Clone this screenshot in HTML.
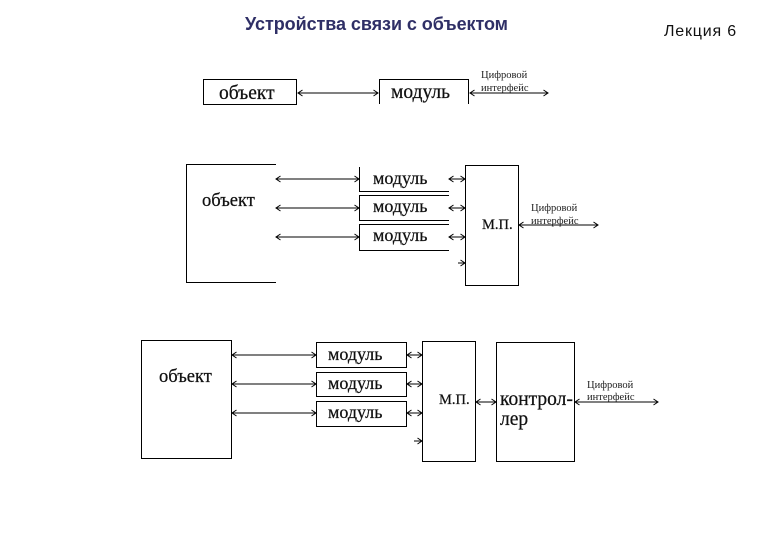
<!DOCTYPE html>
<html><head><meta charset="utf-8"><style>
html,body{margin:0;padding:0;background:#fff}
svg{display:block}
.s{font-family:"Liberation Serif",serif;fill:#111;stroke:#111;stroke-width:.25}
.t{font-family:"Liberation Serif",serif;fill:#222}
.l{stroke:#000;stroke-width:1;fill:none;shape-rendering:crispEdges}
.a{stroke:#000;stroke-width:1;fill:none}
</style></head><body>
<svg width="780" height="540" viewBox="0 0 780 540" xmlns="http://www.w3.org/2000/svg">
<defs>
<marker id="h" markerWidth="7" markerHeight="7" refX="5.5" refY="3.5" orient="auto-start-reverse" markerUnits="userSpaceOnUse"><path d="M1 .5L5.500 3.5L1 6.500" fill="none" stroke="#000" stroke-width="1"/></marker>
</defs>
<rect width="780" height="540" fill="#fff"/>
<text x="245" y="30" font-family="Liberation Sans,sans-serif" font-weight="700" font-size="18" fill="#2f2f66" textLength="263">Устройства связи с объектом</text>
<text x="664" y="36" font-family="Liberation Sans,sans-serif" font-size="16" letter-spacing=".8" fill="#111">Лекция 6</text>

<!-- diagram 1 -->
<rect class="l" x="203.500" y="79.500" width="93" height="25"/>
<path class="l" d="M379.500 104V79.500H468.500V104"/>
<text class="s" x="219" y="99" font-size="19.500">объект</text>
<text class="s" x="391" y="98" font-size="19.500">модуль</text>
<text class="t" x="481" y="78" font-size="10.500">Цифровой</text>
<text class="t" x="481" y="91" font-size="10.500">интерфейс</text>
<g class="a" marker-start="url(#h)" marker-end="url(#h)">
<path class="a" marker-start="url(#h)" marker-end="url(#h)" d="M298 93H378"/>
<path class="a" marker-start="url(#h)" marker-end="url(#h)" d="M470 93H548"/>
</g>

<!-- diagram 2 -->
<path class="l" d="M276 164.500H186.500V282.500H276"/>
<text class="s" x="202" y="206" font-size="18.500">объект</text>
<path class="l" d="M359.500 167V191.500H449M449 195.500H359.500V220.500H449M449 224.500H359.500V250.500H449"/>
<text class="s" x="373" y="184" font-size="18">модуль</text>
<text class="s" x="373" y="212" font-size="18">модуль</text>
<text class="s" x="373" y="241" font-size="18">модуль</text>
<rect class="l" x="465.500" y="165.500" width="53" height="120"/>
<text class="s" x="482" y="229" font-size="14.500">М.П.</text>
<text class="t" x="531" y="211" font-size="10.500">Цифровой</text>
<text class="t" x="531" y="224" font-size="10.500">интерфейс</text>
<path class="a" marker-start="url(#h)" marker-end="url(#h)" d="M276 179H359"/>
<path class="a" marker-start="url(#h)" marker-end="url(#h)" d="M276 208H359"/>
<path class="a" marker-start="url(#h)" marker-end="url(#h)" d="M276 237H359"/>
<path class="a" marker-start="url(#h)" marker-end="url(#h)" d="M449 179H465"/>
<path class="a" marker-start="url(#h)" marker-end="url(#h)" d="M449 208H465"/>
<path class="a" marker-start="url(#h)" marker-end="url(#h)" d="M449 237H465"/>
<path class="a" marker-start="url(#h)" marker-end="url(#h)" d="M519 225H598"/>
<path class="a" marker-end="url(#h)" d="M458 263H465"/>

<!-- diagram 3 -->
<rect class="l" x="141.500" y="340.500" width="90" height="118"/>
<text class="s" x="159" y="382" font-size="18.500">объект</text>
<rect class="l" x="316.500" y="342.500" width="90" height="25"/>
<rect class="l" x="316.500" y="372.500" width="90" height="24"/>
<rect class="l" x="316.500" y="401.500" width="90" height="25"/>
<text class="s" x="328" y="360" font-size="18">модуль</text>
<text class="s" x="328" y="389" font-size="18">модуль</text>
<text class="s" x="328" y="418" font-size="18">модуль</text>
<rect class="l" x="422.500" y="341.500" width="53" height="120"/>
<text class="s" x="439" y="404" font-size="14.500">М.П.</text>
<rect class="l" x="496.500" y="342.500" width="78" height="119"/>
<text class="s" x="500" y="405" font-size="19.500">контрол-</text>
<text class="s" x="500" y="425" font-size="19.500">лер</text>
<text class="t" x="587" y="388" font-size="10.500">Цифровой</text>
<text class="t" x="587" y="400" font-size="10.500">интерфейс</text>
<path class="a" marker-start="url(#h)" marker-end="url(#h)" d="M232 355H316"/>
<path class="a" marker-start="url(#h)" marker-end="url(#h)" d="M232 384H316"/>
<path class="a" marker-start="url(#h)" marker-end="url(#h)" d="M232 413H316"/>
<path class="a" marker-start="url(#h)" marker-end="url(#h)" d="M407 355H422"/>
<path class="a" marker-start="url(#h)" marker-end="url(#h)" d="M407 384H422"/>
<path class="a" marker-start="url(#h)" marker-end="url(#h)" d="M407 413H422"/>
<path class="a" marker-start="url(#h)" marker-end="url(#h)" d="M476 402H496"/>
<path class="a" marker-start="url(#h)" marker-end="url(#h)" d="M575 402H658"/>
<path class="a" marker-end="url(#h)" d="M414 441H422"/>
</svg>
</body></html>
